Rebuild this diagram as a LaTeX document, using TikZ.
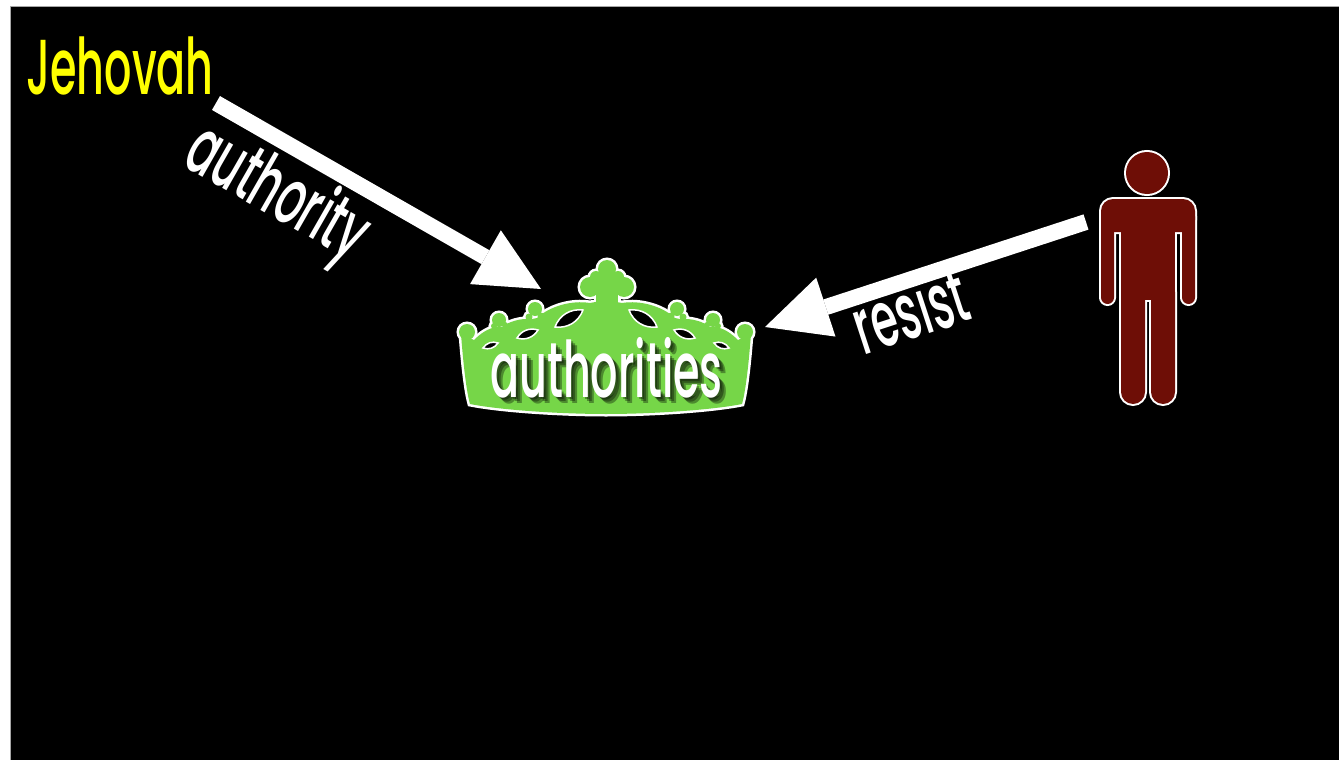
\documentclass[tikz,border=0pt]{standalone}
\usepackage{fontspec}
\setmainfont{Poppins}[FakeStretch=0.55, UprightFont=*-Medium, BoldFont=*-Bold]
\usetikzlibrary{arrows.meta}
\definecolor{crowngreen}{RGB}{118,214,72}
\definecolor{manred}{RGB}{110,14,6}
\definecolor{jyellow}{RGB}{255,255,0}
\newcommand\crownbody{(606,300) -- (590,303) .. controls (572,300) and (550,306) .. (537,318) -- (532,319) .. controls (520,318) and (508,322) .. (502,327) -- (497,327) .. controls (488,328) and (480,334) .. (474,340) -- (461,334) .. controls (463,360) and (466,390) .. (470,404) .. controls (500,410) and (560,414) .. (606,414) .. controls (652,414) and (712,410) .. (742,404) .. controls (746,390) and (749,360) .. (751,334) -- (738,340) .. controls (732,334) and (724,328) .. (715,327) -- (710,327) .. controls (704,322) and (692,318) .. (680,319) -- (675,318) .. controls (662,306) and (640,300) .. (622,303) -- cycle}
\newcommand\crownparts[1]{%
  \path[#1] \crownbody;
  \foreach \cx/\cy/\cr in {607/269/9, 607/285/12, 590/287/10, 624/287/10, 596/277/6, 618/277/6,
     535/309/7, 529/317/3.5, 541/316/3.5, 499/320/7, 494/326/3, 505/325/3, 467/332/8,
     677/309/7, 683/317/3.5, 671/316/3.5, 713/320/7, 718/326/3, 707/325/3, 745/332/8}
     {\path[#1] (\cx,\cy) circle[radius=\cr pt];}
  \path[#1] (596,290) rectangle (618,306);
}
\newcommand\manparts[1]{%
  \path[#1] (1147,173) circle[radius=21pt];
  \path[#1, rounded corners=12pt] (1101,199) rectangle (1195,232);
  \path[#1, rounded corners=6.5pt] (1101,210) rectangle (1114,304);
  \path[#1, rounded corners=6.5pt] (1182,210) rectangle (1195,304);
  \path[#1] (1121,220) rectangle (1175,300);
  \path[#1, rounded corners=12pt] (1121,280) rectangle (1145,404);
  \path[#1, rounded corners=12pt] (1151,280) rectangle (1175,404);
}
\begin{document}
\begin{tikzpicture}[x=1pt,y=-1pt,
  bigtext/.style={font=\fontsize{78pt}{78pt}\selectfont, inner sep=0pt},
  bigarrow/.style={draw=white, line width=16pt, -{Triangle[length=64pt,width=62pt,line width=0pt]}},
  lens/.style={fill=black, draw=white, line width=1.5pt}]
\useasboundingbox (0,0) rectangle (1339,760);
\fill[white] (0,0) rectangle (1339,760);
\fill[black] (10,7) rectangle (1339,760);
\draw[gray!70, line width=1pt] (10,760) -- (10,7) -- (1339,7);

% crown
\crownparts{draw=white, line width=5pt}
\crownparts{fill=crowngreen}
\foreach \ax/\ay/\bx/\by in {555/327/583/310, 517/338/538/330, 483/348/498/343,
                             657/327/629/310, 695/338/674/330, 729/348/714/343}
  {\draw[lens] (\ax,\ay) to[bend left=38] (\bx,\by) to[bend left=38] (\ax,\ay) -- cycle;}

% text on crown with shadow
\foreach \d in {2,4,6}
  {\node[bigtext, text=black, opacity=0.35, anchor=base] (shadow\d) at ({606.5+\d},{397+\d}) {authorities};}
\node[bigtext, text=white, anchor=base] (crown) at (606.5,397) {authorities};

% person
\manparts{draw=white, line width=4pt}
\manparts{fill=manred}
\coordinate (man) at (1147,300);

% labels
\node[bigtext, text=jyellow, anchor=base west] (jeh) at (26,95) {Jehovah};
\coordinate (a1s) at (216,103);
\coordinate (a1t) at (541,289);
\coordinate (a2s) at (1086,222);
\coordinate (a2t) at (765,327);
\draw[bigarrow] (a1s) -- (a1t);
\draw[bigarrow] (a2s) -- (a2t);
\node[bigtext, text=white, anchor=base, rotate=-29.8] (authlbl) at (266,213) {authority};
\node[bigtext, text=white, anchor=base, rotate=18.1] (reslbl) at (919,337) {resist};
\end{tikzpicture}
\end{document}
